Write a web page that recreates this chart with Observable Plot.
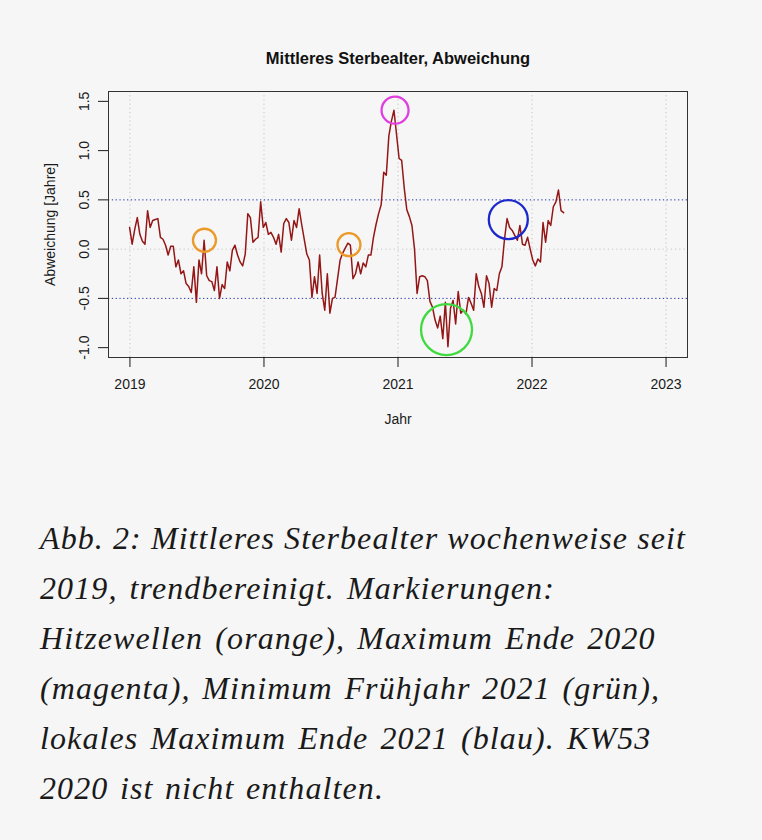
<!DOCTYPE html>
<html><head><meta charset="utf-8">
<script src="https://cdn.jsdelivr.net/npm/d3@7"></script>
<script src="https://cdn.jsdelivr.net/npm/@observablehq/plot@0.6"></script>
<style>
html,body{margin:0;padding:0;background:#f6f6f6;}
#wrap{position:relative;width:762px;height:840px;overflow:hidden;}
#chart{position:absolute;left:0;top:0;}
#caption{position:absolute;left:40px;top:513px;font-family:"Liberation Serif","Times New Roman",serif;font-style:italic;font-size:32px;line-height:50px;color:#1a1a1a;}
#caption div{white-space:pre;height:50px;}
#caption span{display:inline-block;}
</style></head><body>
<div id="wrap"><div id="chart"></div><div id="caption"></div></div>
<script>
// ---- texts ----
const title = "Mittleres Sterbealter, Abweichung";
const xLabel = "Jahr";
const yLabel = "Abweichung [Jahre]";
const xTicks = [2019, 2020, 2021, 2022, 2023];
const yTicks = [-1.0, -0.5, 0.0, 0.5, 1.0, 1.5];
const zeroLine = [0];
const thresholds = [-0.5, 0.5];
const captionLines = [
  "Abb. 2: Mittleres Sterbealter wochenweise seit",
  "2019, trendbereinigt. Markierungen:",
  "Hitzewellen (orange), Maximum Ende 2020",
  "(magenta), Minimum Frühjahr 2021 (grün),",
  "lokales Maximum Ende 2021 (blau). KW53",
  "2020 ist nicht enthalten."
];

// ---- weekly deviations (KW 1..n per year; KW53 2020 not included) ----
const values2019 = [0.22,0.05,0.20,0.32,0.15,0.08,0.05,0.39,0.22,0.29,
  0.30,0.31,0.12,0.10,0.04,-0.06,0.03,0.03,-0.18,-0.11,
  -0.25,-0.22,-0.35,-0.38,-0.44,-0.18,-0.54,-0.11,-0.25,0.09,
  -0.27,-0.32,-0.33,-0.42,-0.18,-0.50,-0.36,-0.40,-0.13,-0.22,
  -0.01,0.04,-0.06,-0.13,-0.17,-0.05,0.36,0.32,0.07,0.10,
  0.12,0.48];
const values2020 = [0.22,0.27,0.15,0.17,0.12,0.05,0.15,-0.03,0.26,0.31,
  0.27,0.09,0.29,0.22,0.41,0.25,0.10,-0.05,-0.11,-0.49,
  -0.28,-0.45,-0.06,-0.45,-0.62,-0.25,-0.65,-0.50,-0.49,-0.30,
  -0.11,-0.04,0.01,0.06,0.04,-0.30,-0.25,-0.13,-0.25,-0.14,
  -0.18,-0.06,-0.06,0.12,0.25,0.36,0.45,0.78,0.75,1.15,
  1.30,1.41];
const values2021 = [0.92,0.90,0.62,0.40,0.33,0.24,0.00,-0.45,-0.28,-0.27,
  -0.28,-0.32,-0.53,-0.59,-0.72,-0.80,-0.68,-0.91,-0.54,-0.99,
  -0.60,-0.52,-0.76,-0.43,-0.65,-0.62,-0.66,-0.49,-0.55,-0.62,
  -0.25,-0.38,-0.45,-0.59,-0.27,-0.35,-0.59,-0.40,-0.42,-0.25,
  -0.18,0.10,0.31,0.22,0.19,0.14,0.09,0.24,0.05,0.04,
  0.12,0.00];
const values2022 = [-0.11,-0.17,-0.10,-0.13,0.27,0.07,0.29,0.24,0.43,0.48,
  0.60,0.39,0.37];

// ---- circled events ----
const markerKind = ["orange", "orange", "magenta", "green", "blue"];
const markerX = [2019.556, 2020.634, 2020.978, 2021.362, 2021.823];
const markerY = [0.09, 0.045, 1.41, -0.817, 0.30];

// styles
const markerStyle = {
  orange: {stroke: "#ec9a2a", r: 11.5},
  magenta: {stroke: "#e03fe0", r: 13.5},
  green: {stroke: "#3fda3f", r: 25.5},
  blue: {stroke: "#1c28cc", r: 19.5}
};
// caption layout: target width of each line (px)
const captionWidths = [646, 525, 622, 620, 676, 344];

// ISO week -> decimal year of its Monday
function isoMonday(year, kw) {
  const mon = d3.utcMonday.floor(new Date(Date.UTC(year, 0, 4)));
  return d3.utcMonday.offset(mon, kw - 1);
}
function decimalYear(d) {
  const y = d.getUTCFullYear();
  const s = Date.UTC(y, 0, 1), e = Date.UTC(y + 1, 0, 1);
  return y + (d - s) / (e - s);
}
const series = [[2019, values2019], [2020, values2020], [2021, values2021], [2022, values2022]];
const rows = [];
for (const [year, vals] of series) {
  vals.forEach((v, i) => rows.push({x: decimalYear(isoMonday(year, i + 1)), y: v}));
}
const markers = markerKind.map((k, i) => ({kind: k, x: markerX[i], y: markerY[i]}));

const chart = Plot.plot({
  width: 762, height: 440,
  marginLeft: 108, marginRight: 75, marginTop: 91, marginBottom: 83,
  style: {background: "#f6f6f6", fontFamily: "'Liberation Sans', Arial, sans-serif", fontSize: "14px", color: "#1a1a1a"},
  x: {domain: [2018.84, 2023.16]},
  y: {domain: [-1.1, 1.6]},
  r: {type: "identity"},
  marks: [
    Plot.ruleX(xTicks, {stroke: "#c4c4c4", strokeDasharray: "1.2,3"}),
    Plot.ruleY(zeroLine, {stroke: "#c4c4c4", strokeDasharray: "1.2,3"}),
    Plot.ruleY(thresholds, {stroke: "#2535a8", strokeDasharray: "1.3,2.5"}),
    Plot.line(rows, {x: "x", y: "y", stroke: "#941616", strokeWidth: 1.5}),
    Plot.dot(markers, {x: "x", y: "y", r: d => markerStyle[d.kind].r, stroke: d => markerStyle[d.kind].stroke, strokeWidth: 2.3, fill: "none"}),
    Plot.frame({stroke: "#333"}),
    Plot.axisX({ticks: xTicks, tickFormat: "d", tickSize: 10, tickPadding: 11.5, label: xLabel, labelAnchor: "center", labelOffset: 66, labelArrow: "none", fontSize: 14}),
    Plot.axisY({ticks: yTicks, tickFormat: d => d.toFixed(1), tickSize: 10, tickPadding: 10, tickRotate: -90, textAnchor: "middle", lineAnchor: "bottom", label: yLabel, labelAnchor: "center", labelOffset: 63, labelArrow: "none", fontSize: 14}),
    Plot.text([title], {text: d => d, frameAnchor: "top", dy: -39, fontWeight: "bold", fontSize: 16.5, fill: "#111"})
  ]
});
document.getElementById("chart").appendChild(chart);

const cap = document.getElementById("caption");
captionLines.forEach((line, i) => {
  const div = document.createElement("div");
  const span = document.createElement("span");
  span.textContent = line;
  div.appendChild(span);
  cap.appendChild(div);
  const w = span.getBoundingClientRect().width;
  const n = line.length;
  const spaces = (line.match(/ /g) || []).length;
  const extra = captionWidths[i] - w;
  const ls = Math.min(extra / n, 1.1);
  span.style.letterSpacing = ls + "px";
  const rest = extra - ls * n;
  if (spaces > 0 && rest > 0) span.style.wordSpacing = Math.min(rest / spaces, 3) + "px";
});
</script>
</body></html>
